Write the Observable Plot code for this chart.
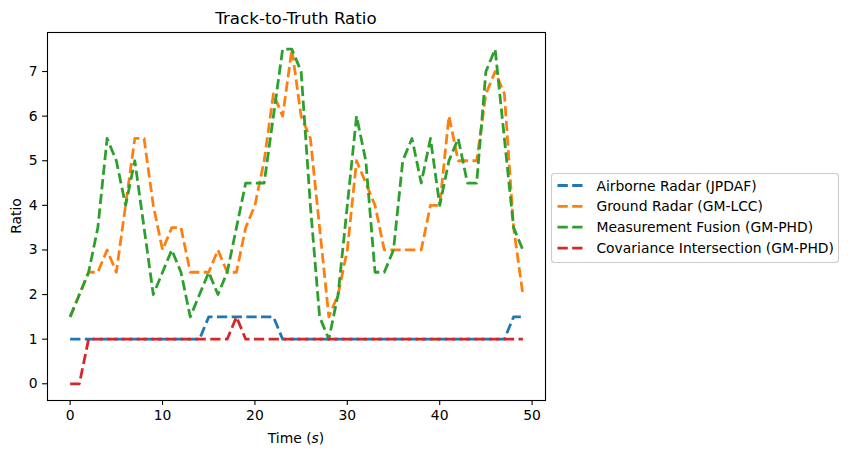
<!DOCTYPE html>
<html>
<head>
<meta charset="utf-8">
<script src="https://cdn.jsdelivr.net/npm/d3@7"></script>
<script src="https://cdn.jsdelivr.net/npm/@observablehq/plot@0.6"></script>
<style>
  body { margin: 0; background: #fff; }
  #wrap { position: relative; width: 848px; height: 457px; font-family: "DejaVu Sans", sans-serif; }
  #overlay { position: absolute; left: 0; top: 0; pointer-events: none; }
</style>
</head>
<body>
<div id="wrap"><div id="chart"></div></div>
<script>
const time = [0,1,2,3,4,5,6,7,8,9,10,11,12,13,14,15,16,17,18,19,20,21,22,23,24,25,26,27,28,29,30,31,32,33,34,35,36,37,38,39,40,41,42,43,44,45,46,47,48,49];

const airborne = [1,1,1,1,1,1,1,1,1,1, 1,1,1,1,1,1.5,1.5,1.5,1.5,1.5, 1.5,1.5,1.5,1,1,1,1,1,1,1, 1,1,1,1,1,1,1,1,1,1, 1,1,1,1,1,1,1,1,1.5,1.5];
const ground = [1.5,2,2.5,2.5,3,2.5,4,5.5,5.5,4, 3,3.5,3.5,2.5,2.5,2.5,3,2.5,2.5,3.5, 4,5,6.5,6,7.5,6,5.5,3.5,1.5,2, 3,5,4.5,4,3,3,3,3,3,4, 4,6,5,5,5,6.5,7,6.5,3.5,2];
const fusion = [1.5,2,2.5,3.5,5.5,5,4,5,3.5,2, 2.5,3,2.5,1.5,2,2.5,2,2.5,3.5,4.5, 4.5,4.5,6,7.5,7.5,7,4,1.5,1,2, 4,6,5,2.5,2.5,3,5,5.5,4.5,5.5, 4,5,5.5,4.5,4.5,7,7.5,5.5,3.5,3];
const covariance = [0,0,1,1,1,1,1,1,1,1, 1,1,1,1,1,1,1,1,1.5,1, 1,1,1,1,1,1,1,1,1,1, 1,1,1,1,1,1,1,1,1,1, 1,1,1,1,1,1,1,1,1,1];

const seriesNames = ["Airborne Radar (JPDAF)", "Ground Radar (GM-LCC)", "Measurement Fusion (GM-PHD)", "Covariance Intersection (GM-PHD)"];
const seriesColors = ["#1f77b4", "#ff7f0e", "#2ca02c", "#d62728"];
const seriesValues = [airborne, ground, fusion, covariance];
const xTicks = [0, 10, 20, 30, 40, 50];
const yTicks = [0, 1, 2, 3, 4, 5, 6, 7];

const rows = [];
seriesValues.forEach((vals, si) => {
  vals.forEach((v, i) => rows.push({series: seriesNames[si], t: time[i], v}));
});

const W = 848, H = 457;
const mL = 47, mR = 303, mT = 32, mB = 57;

const plot = Plot.plot({
  width: W, height: H,
  marginLeft: mL, marginRight: mR, marginTop: mT, marginBottom: mB,
  style: {fontFamily: "DejaVu Sans, sans-serif", fontSize: "13.9px", color: "black", background: "white", overflow: "visible"},
  x: {domain: [-2.45, 51.45]},
  y: {domain: [-0.375, 7.875]},
  color: {domain: seriesNames, range: seriesColors},
  marks: [
    Plot.line(rows, {x: "t", y: "v", z: "series", stroke: "series", strokeWidth: 2.78, strokeDasharray: "10.3,4.4", strokeLinejoin: "round", strokeLinecap: "butt"}),
    Plot.frame({stroke: "black", strokeWidth: 1.1}),
    Plot.axisX({ticks: xTicks, tickSize: 4.9, tickPadding: 4.9, strokeWidth: 1.1, label: null, tickFormat: d => String(d), fontSize: 13.9}),
    Plot.axisY({ticks: yTicks, tickSize: 4.9, tickPadding: 4.9, strokeWidth: 1.1, label: null, tickFormat: d => String(d), fontSize: 13.9})
  ]
});
document.getElementById("chart").appendChild(plot);

// Text overlay: title, axis labels, legend
const ns = "http://www.w3.org/2000/svg";
const ov = d3.select("#wrap").append("svg")
  .attr("id", "overlay").attr("width", W).attr("height", H)
  .attr("xmlns", ns)
  .style("font-family", "DejaVu Sans, sans-serif");

const plotCx = mL + (W - mL - mR) / 2;
ov.append("text").attr("x", plotCx).attr("y", 23.7).attr("text-anchor", "middle")
  .attr("font-size", 16.67).attr("fill", "black").text("Track-to-Truth Ratio");

const xl = ov.append("text").attr("x", plotCx).attr("y", 443).attr("text-anchor", "middle")
  .attr("font-size", 13.9).attr("fill", "black");
xl.append("tspan").text("Time (");
xl.append("tspan").attr("font-style", "italic").text("s");
xl.append("tspan").text(")");

const plotCy = mT + (H - mT - mB) / 2;
ov.append("text").attr("transform", `translate(21,${plotCy}) rotate(-90)`).attr("text-anchor", "middle")
  .attr("font-size", 13.9).attr("fill", "black").text("Ratio");

// Legend
const lg = ov.append("g");
lg.append("rect").attr("x", 551.5).attr("y", 173.5).attr("width", 287).attr("height", 89)
  .attr("rx", 3).attr("ry", 3).attr("fill", "white").attr("fill-opacity", 0.8)
  .attr("stroke", "#cccccc").attr("stroke-width", 1.1);
seriesNames.forEach((name, i) => {
  const cy = 185.5 + i * 20.85;
  lg.append("line").attr("x1", 557.5).attr("x2", 585.3).attr("y1", cy).attr("y2", cy)
    .attr("stroke", seriesColors[i]).attr("stroke-width", 2.78).attr("stroke-dasharray", "10.3,4.4");
  lg.append("text").attr("x", 596.4).attr("y", cy + 5).attr("font-size", 13.9).attr("fill", "black").text(name);
});
</script>
</body>
</html>
